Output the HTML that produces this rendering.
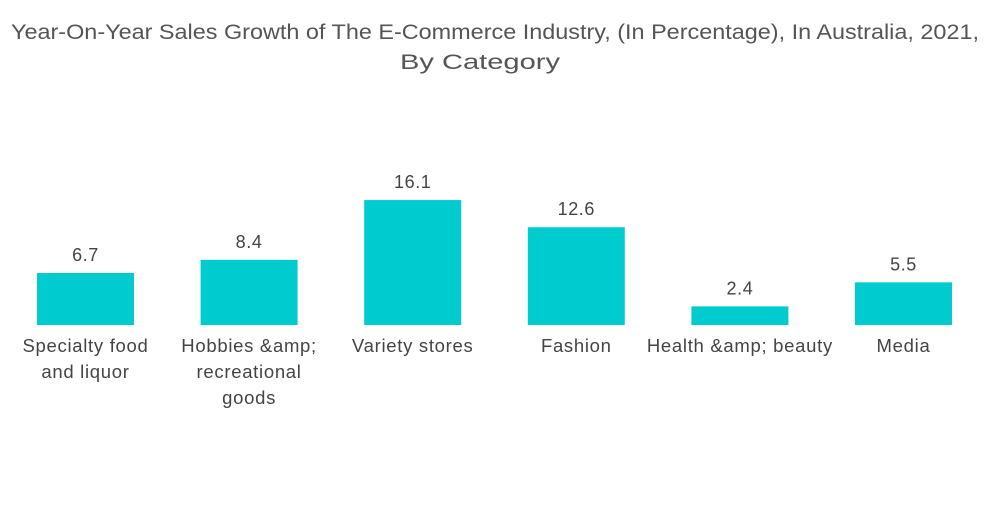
<!DOCTYPE html>
<html><head><meta charset="utf-8"><style>
body{margin:0;background:#fff;width:1000px;height:504px;overflow:hidden;font-family:"Liberation Sans",sans-serif}
</style></head><body>
<svg id="chart" width="1000" height="504" xmlns="http://www.w3.org/2000/svg">
<text x="495" y="39" text-anchor="middle" font-size="21" fill="#555" textLength="968" lengthAdjust="spacingAndGlyphs">Year-On-Year Sales Growth of The E-Commerce Industry, (In Percentage), In Australia, 2021,</text>
<text x="480" y="69" text-anchor="middle" font-size="21" fill="#555" textLength="160" lengthAdjust="spacingAndGlyphs">By Category</text>
<g id="bars"></g>
</svg>
<script>
const categories=[["Specialty food","and liquor"],["Hobbies &amp;","recreational","goods"],["Variety stores"],["Fashion"],["Health &amp; beauty"],["Media"]];
const values=[6.7,8.4,16.1,12.6,2.4,5.5];
const valueLabels=["6.7","8.4","16.1","12.6","2.4","5.5"];
const NS="http://www.w3.org/2000/svg";
const base=325,scale=7.76,x0=37,step=163.6,bw=97;
const y=v=>base-v*scale;
const g=document.getElementById('bars');
values.forEach((v,i)=>{
 const x=x0+i*step,cx=x+bw/2;
 const r=document.createElementNS(NS,'rect');
 
 
 r.setAttribute('x',x);r.setAttribute('y',y(v));r.setAttribute('width',bw);r.setAttribute('height',base-y(v));r.setAttribute('fill','#00cccf');
 g.appendChild(r);
 const t=document.createElementNS(NS,'text');
 
 
 t.setAttribute('x',cx);t.setAttribute('y',y(v)-12);t.setAttribute('text-anchor','middle');t.setAttribute('font-size','18');t.setAttribute('fill','#444');t.setAttribute('letter-spacing','0.6');
 t.textContent=valueLabels[i];g.appendChild(t);
 categories[i].forEach((line,j)=>{
  const c=document.createElementNS(NS,'text');
  
  
  c.setAttribute('x',cx);c.setAttribute('y',352+j*26);c.setAttribute('text-anchor','middle');c.setAttribute('font-size','18.5');c.setAttribute('fill','#444');c.setAttribute('letter-spacing','0.7');
  c.textContent=line;g.appendChild(c);
 });
});
</script>
</body></html>
